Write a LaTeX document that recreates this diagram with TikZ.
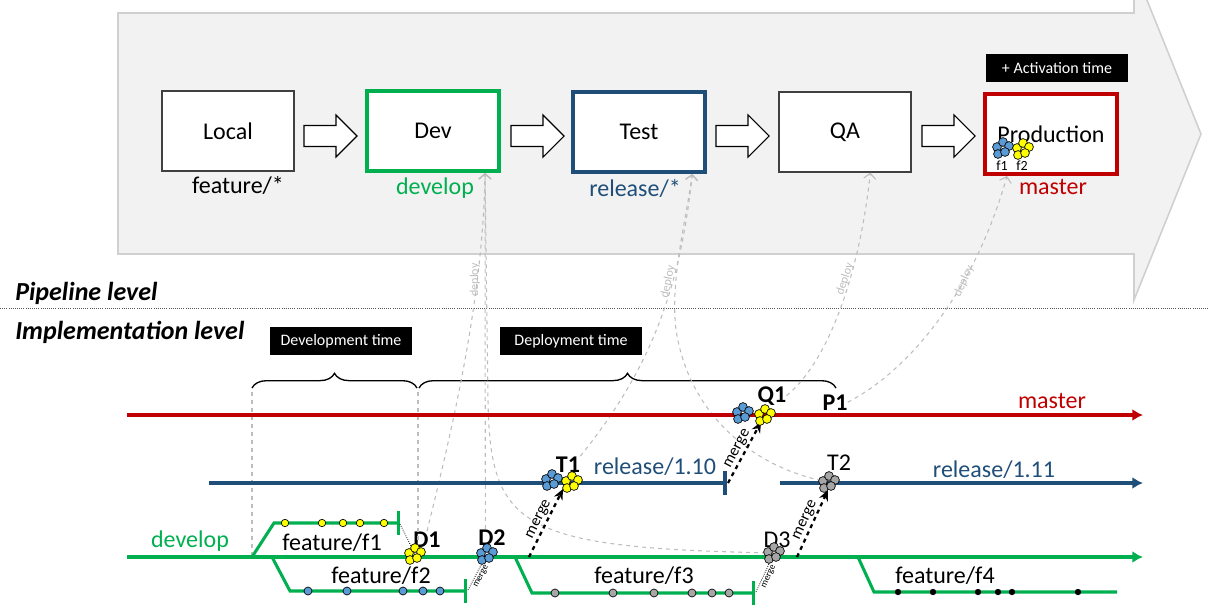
\documentclass[tikz,border=0pt]{standalone}
\usepackage{fontspec}
\setmainfont{Carlito}
\usetikzlibrary{arrows.meta,decorations.pathreplacing,positioning}
\definecolor{devgreen}{HTML}{00B050}
\definecolor{relblue}{HTML}{1F4E79}
\definecolor{prodred}{HTML}{C00000}
\definecolor{fblue}{HTML}{5B9BD5}
\definecolor{fyellow}{HTML}{FFFF00}
\definecolor{fgrey}{HTML}{A6A6A6}
\definecolor{pipefill}{HTML}{F2F2F2}
\definecolor{pipeedge}{HTML}{D0D0D0}
\definecolor{deploygrey}{HTML}{BDBDBD}
\begin{document}
\begin{tikzpicture}[x=0.75pt,y=-0.75pt,
    stage/.style={draw=black!75,fill=white,line width=1pt,minimum width=99pt,minimum height=60pt,font=\fontsize{18}{20}\selectfont},
    tag/.style={fill=black,text=white,minimum width=107pt,minimum height=21pt,inner sep=0pt,font=\fontsize{12}{14}\selectfont},
    big/.style={anchor=base,inner sep=0pt,font=\fontsize{18}{20}\selectfont},
    cname/.style={big,font=\fontsize{18}{20}\selectfont\bfseries},
    heading/.style={anchor=base west,inner sep=0pt,font=\fontsize{19.5}{22}\selectfont\bfseries\itshape},
    branch/.style={line width=3pt},
    twig/.style={line width=2.3pt,devgreen},
    ahead/.style={-{Latex[length=8pt,width=9pt]}},
    endbar/.style={-{Bar[width=18pt]}},
    bead/.style={draw,line width=.5pt},
    guide/.style={deploygrey,dashed,line width=.8pt},
    deploy/.style={guide,-{Straight Barb[length=4pt,width=9pt]}},
    deploytext/.style={text=deploygrey,font=\fontsize{9}{10}\selectfont,inner sep=0pt},
    merge/.style={dashed,line width=1.7pt,-{Stealth[length=8pt,width=7pt]}},
    minimerge/.style={densely dotted,line width=.6pt},
    mergetext/.style={font=\fontsize{12}{13}\selectfont,inner sep=1pt},
    minitext/.style={font=\fontsize{7}{8}\selectfont,inner sep=1.5pt},
    curly/.style={decorate,decoration={brace,amplitude=11pt},line width=1pt},
    pics/blockarrow/.style={code={
      \draw[fill=white,line width=.8pt] (-26,-10.5) -- (6,-10.5) -- (6,-21) -- (27,0) -- (6,21) -- (6,10.5) -- (-26,10.5) -- cycle;}},
    pics/commits/.style={code={
      \foreach \dx/\dy in {-6/-1,0/-6,6/-2,-5/6,2/4}
        \draw[bead,fill=#1] (\dx,\dy) circle (3.3pt);}}
  ]
  \useasboundingbox (0,0) rectangle (1208,614);
  \draw[pipeedge,fill=pipefill,line width=1.2pt] (118,13) -- (1134,13) -- (1134,-32) -- (1201,134) -- (1134,300) -- (1134,254) -- (118,254) -- cycle;

  \node[stage] (local) at (228,131) {Local};
  \node[stage,draw=devgreen,line width=3pt] (dev) at (433,131) {Dev};
  \node[stage,draw=relblue,line width=3pt] (test) at (639,132) {Test};
  \node[stage] (qa) at (845,132) {QA};
  \node[stage,draw=prodred,line width=3pt] (prod) at (1051,134) {Production};
  \foreach \x in {330,537,742,948}
    \pic at (\x,136) {blockarrow};

  \node[big] (fstar) at (238,193) {feature/*};
  \node[big,text=devgreen] (devname) at (435,194) {develop};
  \node[big,text=relblue] (relname) at (635,196) {release/*};
  \node[big,text=prodred] (mastername) at (1053,194) {master};
  \node[tag] (acttime) at (1057,68) {+ Activation time};
  \pic at (1003,148) {commits=fblue};
  \pic at (1023,149) {commits=fyellow};
  \node[font=\fontsize{10.5}{11}\selectfont,inner sep=0pt] (pf1) at (1002,166) {f1};
  \node[font=\fontsize{10.5}{11}\selectfont,inner sep=0pt] (pf2) at (1022,166) {f2};

  \node[heading] (pipehead) at (15,300) {Pipeline level};
  \draw[densely dotted,line width=.6pt,black!65] (0,308) -- (1208,308);
  \node[heading] (implhead) at (15,339) {Implementation level};
  \node[tag] (devtime) at (341,341) {Development time};
  \node[tag] (deptime) at (571,341) {Deployment time};
  \draw[curly] (252,388) -- (417,388);
  \draw[curly] (419,388) -- (836,388);

  \coordinate (brl) at (252,392);
  \coordinate (brm) at (418,392);
  \coordinate (fork1) at (252,557);
  \coordinate (D1) at (415,554);
  \coordinate (D2) at (487,554);
  \coordinate (D3) at (774,553);
  \coordinate (T1) at (552,480);
  \coordinate (T1b) at (572,482);
  \coordinate (T2) at (829,482);
  \coordinate (Q1) at (743,413);
  \coordinate (Q1b) at (765,415);

  \node[cname] (d1n) at (427,547) {D1};
  \node[cname] (d2n) at (492,545) {D2};
  \node[cname] (t1n) at (568,472) {T1};
  \node[cname] (q1n) at (772,402) {Q1};
  \node[cname] (p1n) at (835,410) {P1};
  \node[big] (t2n) at (839,470) {T2};
  \node[big] (d3n) at (777,547) {D3};

  \draw[guide] (brl) -- (fork1);
  \draw[guide] (brm) -- (brm |- D1);
  \draw[deploy] (d1n.north) .. controls (452,430) and (483,300) .. ([xshift=-12pt]dev.south east);
  \draw[deploy] ([xshift=-5pt]d2n.north) -- ([xshift=-12pt]dev.south east);
  \draw[deploy] (D3) .. controls (520,548) and (490,528) .. (488,400) -- ([xshift=-12pt]dev.south east);
  \draw[deploy] (t1n.north east) .. controls (650,370) and (680,290) .. ([xshift=-11pt]test.south east);
  \draw[deploy] (T2) .. controls (760,470) and (690,420) .. (676,330) .. controls (670,280) and (686,220) .. ([xshift=-11pt]test.south east);
  \draw[deploy] (q1n.east) .. controls (830,360) and (860,270) .. ([xshift=-31pt]qa.south east);
  \draw[deploy] (p1n.east) .. controls (910,370) and (975,290) .. ([xshift=18pt]prod.south west);
  \node[deploytext,rotate=90] (dp1) at (475,280) {deploy};
  \node[deploytext,rotate=78] (dp2) at (668,282) {deploy};
  \node[deploytext,rotate=72] (dp3) at (845,279) {deploy};
  \node[deploytext,rotate=66] (dp4) at (964,281) {deploy};

  \draw[branch,prodred,ahead] (127,415) -- (1143,415);
  \draw[branch,relblue,endbar] (209,483) -- (727,483);
  \draw[branch,relblue,ahead] (780,483) -- (1143,483);
  \draw[branch,devgreen,ahead] (127,557) -- (1143,557);
  \node[big,text=prodred] (mlab) at (1052,408) {master};
  \node[big,text=relblue] (r110) at (655,474) {release/1.10};
  \node[big,text=relblue] (r111) at (994,477) {release/1.11};
  \node[big,text=devgreen] (devlab) at (190,547) {develop};

  \draw[twig,endbar] (fork1) -- (274,523) -- (400,523);
  \draw[twig,endbar] (272,557) -- (290,591) -- (467,591);
  \draw[twig,endbar] (515,557) -- (532,593) -- (755,593);
  \draw[twig] (858,557) -- (874,592) -- (1117,592);
  \node[big] (f1lab) at (332,550) {feature/f1};
  \node[big] (f2lab) at (381,583) {feature/f2};
  \node[big] (f3lab) at (644,583) {feature/f3};
  \node[big] (f4lab) at (945,583) {feature/f4};
  \foreach \x in {285,322,343,360,384} \draw[bead,fill=fyellow] (\x,523) circle (2.8pt);
  \foreach \x in {308,347,403,423,440} \draw[bead,fill=fblue] (\x,591) circle (3pt);
  \foreach \x in {555,613,654,692,712,729} \draw[bead,fill=fgrey] (\x,593) circle (3pt);
  \foreach \x in {898,933,978,998,1012,1078} \fill (\x,592) circle (2.4pt);

  \coordinate (m1) at (529,557);
  \coordinate (T1in) at (563,489);
  \coordinate (rel110end) at (728,483);
  \coordinate (Q1in) at (761,422);
  \coordinate (m3) at (797,557);
  \coordinate (T2in) at (828,490);
  \coordinate (f1end) at (400,524);
  \coordinate (f2end) at (468,590);
  \coordinate (f3end) at (756,592);
  \draw[merge] (m1) -- node[sloped,above,mergetext] (mt1) {merge} (T1in);
  \draw[merge] (rel110end) -- node[sloped,above,mergetext] (mt2) {merge} (Q1in);
  \draw[merge] (m3) -- node[sloped,above,mergetext] (mt3) {merge} (T2in);
  \draw[minimerge] (f1end) -- (D1);
  \draw[minimerge] (f2end) -- node[sloped,below,minitext,pos=.45] (mt4) {merge} (D2);
  \draw[minimerge] (f3end) -- node[sloped,below,minitext,pos=.45] (mt5) {merge} (D3);

  \pic at (D1) {commits=fyellow};
  \pic at (D2) {commits=fblue};
  \pic at (D3) {commits=fgrey};
  \pic at (T1) {commits=fblue};
  \pic at (T1b) {commits=fyellow};
  \pic at (T2) {commits=fgrey};
  \pic at (Q1) {commits=fblue};
  \pic at (Q1b) {commits=fyellow};
\end{tikzpicture}
\end{document}
